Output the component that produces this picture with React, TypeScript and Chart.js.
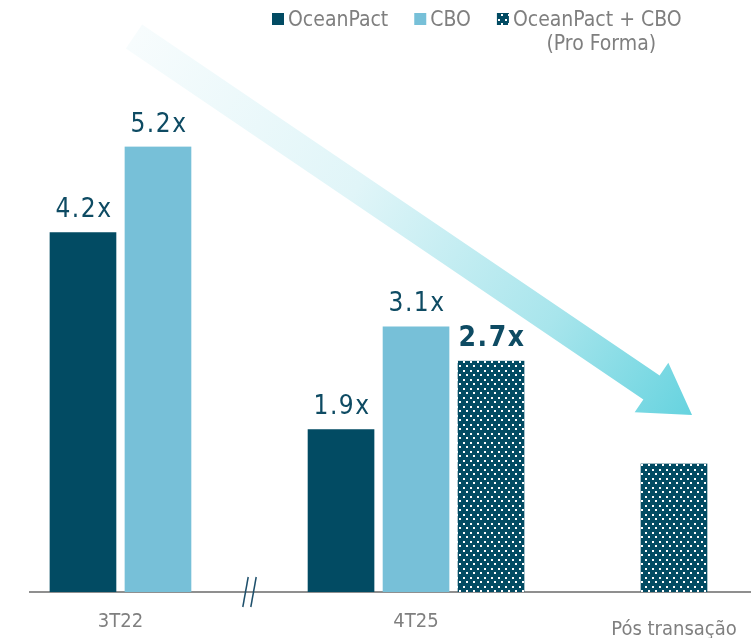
import React, { useEffect, useRef } from 'react';
import { Chart, CategoryScale, registerables } from 'chart.js';

// ---- Data ----
const categories = ['3T22', '4T25', 'Pós transação'];
const oceanPactValues: (number | null)[] = [4.2, 1.9, null];
const cboValues: (number | null)[] = [5.2, 3.1, null];
const proFormaValues: (number | null)[] = [null, 2.7, 1.5];
const proFormaShowLabel = [false, true, false];
const seriesNames = ['OceanPact', 'CBO', 'OceanPact + CBO'];
const legendLines = [['OceanPact'], ['CBO'], ['OceanPact + CBO', '(Pro Forma)']];
const yMax = 6;

// ---- Styles / layout ----
const CATEGORY_CENTERS = [0.1255, 0.5354, 0.8932];
const LABEL_DROP = [0, 0, 8];
const FONT = '"DejaVu Sans Condensed", "DejaVu Sans", sans-serif';
const DARK = '#024b63';
const LIGHT = '#77c0d8';
const LABEL_COLOR = '#0e4b63';
const GRAY_TEXT = '#7f7f7f';

class GappedCategoryScale extends CategoryScale {
  static id = 'gappedCategory';
  getPixelForValue(value: any, index?: number) {
    let v = value;
    if (typeof v !== 'number') v = (this as any).parse(v, index);
    if (v === null || v === undefined || isNaN(v)) return NaN;
    const i = Math.round(v);
    const f = CATEGORY_CENTERS[i] !== undefined ? CATEGORY_CENTERS[i] : (i + 0.5) / categories.length;
    return (this as any).getPixelForDecimal(f);
  }
}

Chart.register(...registerables, GappedCategoryScale);

function makePattern(): CanvasPattern | string {
  const tile = document.createElement('canvas');
  tile.width = 7;
  tile.height = 9;
  const t = tile.getContext('2d');
  if (!t) return DARK;
  t.fillStyle = DARK;
  t.fillRect(0, 0, 7, 9);
  t.fillStyle = '#ffffff';
  t.fillRect(1, 1, 2, 2);
  t.fillRect(4, 5, 2, 2);
  const c = document.createElement('canvas').getContext('2d');
  const p = c ? c.createPattern(tile, 'repeat') : null;
  return p || DARK;
}

function drawArrow(chart: any) {
  const ctx = chart.ctx as CanvasRenderingContext2D;
  const W = chart.width, H = chart.height;
  const tail = { x: 0.1784 * W, y: 0.0572 * H };
  const tip = { x: 0.9215 * W, y: 0.6505 * H };
  const dx = tip.x - tail.x, dy = tip.y - tail.y;
  const len = Math.hypot(dx, dy);
  const ux = dx / len, uy = dy / len;
  const nx = -uy, ny = ux;
  const headLen = 49, headHalf = 30, shaftHalf = 14.5;
  const bx = tip.x - ux * headLen, by = tip.y - uy * headLen;
  const grad = ctx.createLinearGradient(tail.x, tail.y, tip.x, tip.y);
  grad.addColorStop(0, '#f7fcfd');
  grad.addColorStop(0.4, '#e0f5f8');
  grad.addColorStop(0.75, '#a8e5ec');
  grad.addColorStop(1, '#66d3df');
  ctx.save();
  ctx.beginPath();
  ctx.moveTo(tail.x + nx * shaftHalf, tail.y + ny * shaftHalf);
  ctx.lineTo(bx + nx * shaftHalf, by + ny * shaftHalf);
  ctx.lineTo(bx + nx * headHalf, by + ny * headHalf);
  ctx.lineTo(tip.x, tip.y);
  ctx.lineTo(bx - nx * headHalf, by - ny * headHalf);
  ctx.lineTo(bx - nx * shaftHalf, by - ny * shaftHalf);
  ctx.lineTo(tail.x - nx * shaftHalf, tail.y - ny * shaftHalf);
  ctx.closePath();
  ctx.fillStyle = grad;
  ctx.fill();
  ctx.restore();
}

const decorPlugin = {
  id: 'decor',
  beforeDatasetsDraw(chart: any) {
    drawArrow(chart);
  },
  afterDatasetsDraw(chart: any) {
    const ctx = chart.ctx as CanvasRenderingContext2D;
    const area = chart.chartArea;
    const xScale = chart.scales.x;

    // value labels
    ctx.save();
    ctx.textAlign = 'center';
    ctx.textBaseline = 'alphabetic';
    ctx.fillStyle = LABEL_COLOR;
    try { (ctx as any).letterSpacing = '1.5px'; } catch (e) { /* ignore */ }
    chart.data.datasets.forEach((ds: any, di: number) => {
      const meta = chart.getDatasetMeta(di);
      meta.data.forEach((el: any, i: number) => {
        const v = ds.data[i];
        if (v === null || v === undefined) return;
        if (di === 2 && !proFormaShowLabel[i]) return;
        ctx.font = di === 2 ? `bold 28px ${FONT}` : `26px ${FONT}`;
        ctx.fillText(`${v.toFixed(1)}x`, el.x + 1, el.y - 15);
      });
    });
    ctx.restore();

    // category labels
    ctx.save();
    ctx.font = `20px ${FONT}`;
    ctx.fillStyle = GRAY_TEXT;
    ctx.textAlign = 'center';
    ctx.textBaseline = 'alphabetic';
    categories.forEach((c, i) => {
      ctx.fillText(c, xScale.getPixelForValue(i), area.bottom + 35 + LABEL_DROP[i]);
    });
    ctx.restore();

    // axis break marks
    const m1 = chart.getDatasetMeta(1).data[0];
    const m0 = chart.getDatasetMeta(0).data[1];
    if (m1 && m0) {
      const gx = ((m1.x + m1.width / 2) + (m0.x - m0.width / 2)) / 2;
      const gy = area.bottom;
      ctx.save();
      ctx.strokeStyle = '#1d4f6b';
      ctx.lineWidth = 1.5;
      [-4, 4].forEach((off) => {
        ctx.beginPath();
        ctx.moveTo(gx + off + 2.7, gy - 15);
        ctx.lineTo(gx + off - 2.7, gy + 15);
        ctx.stroke();
      });
      ctx.restore();
    }

    // legend
    ctx.save();
    ctx.font = `21px ${FONT}`;
    ctx.textBaseline = 'alphabetic';
    let x = 272;
    const base = 26;
    chart.data.datasets.forEach((ds: any, i: number) => {
      ctx.fillStyle = ds.backgroundColor;
      ctx.fillRect(x, 13, 12, 12);
      x += 16;
      const lines = legendLines[i];
      const w = ctx.measureText(lines[0]).width;
      ctx.fillStyle = GRAY_TEXT;
      ctx.textAlign = 'left';
      ctx.fillText(lines[0], x, base);
      for (let j = 1; j < lines.length; j++) {
        ctx.textAlign = 'center';
        ctx.fillText(lines[j], x + w / 2 + 4, base + 24 * j);
      }
      x += w + 26;
    });
    ctx.restore();
  },
};

export default function App() {
  const ref = useRef<HTMLCanvasElement | null>(null);
  useEffect(() => {
    document.body.style.margin = '0';
    const canvas = ref.current;
    if (!canvas) return;
    const pattern = makePattern();
    const barBorder = { left: 4.5, right: 4.5, top: 0, bottom: 0 };
    const common = {
      barThickness: 75,
      borderWidth: barBorder,
      borderColor: 'rgba(0,0,0,0)',
      borderSkipped: false,
      skipNull: true,
    };
    const chart = new Chart(canvas, {
      type: 'bar',
      data: {
        labels: categories,
        datasets: [
          { label: seriesNames[0], data: oceanPactValues, backgroundColor: DARK, ...common },
          { label: seriesNames[1], data: cboValues, backgroundColor: LIGHT, ...common },
          { label: seriesNames[2], data: proFormaValues, backgroundColor: pattern, ...common },
        ] as any,
      },
      options: {
        responsive: false,
        animation: false,
        events: [],
        devicePixelRatio: 1,
        layout: { padding: { left: 30, right: 0, top: 78, bottom: 46 } },
        plugins: { legend: { display: false }, tooltip: { enabled: false } },
        scales: {
          x: {
            type: 'gappedCategory' as any,
            offset: false,
            grid: { display: false, drawTicks: false },
            ticks: { display: false },
            border: { display: true, color: '#8f8f8f', width: 2 },
          },
          y: {
            display: false,
            min: 0,
            max: yMax,
          },
        },
      } as any,
      plugins: [decorPlugin],
    });
    return () => chart.destroy();
  }, []);
  return (
    <div style={{ width: 751, height: 638 }}>
      <canvas ref={ref} width={751} height={638} style={{ display: 'block' }} />
    </div>
  );
}
